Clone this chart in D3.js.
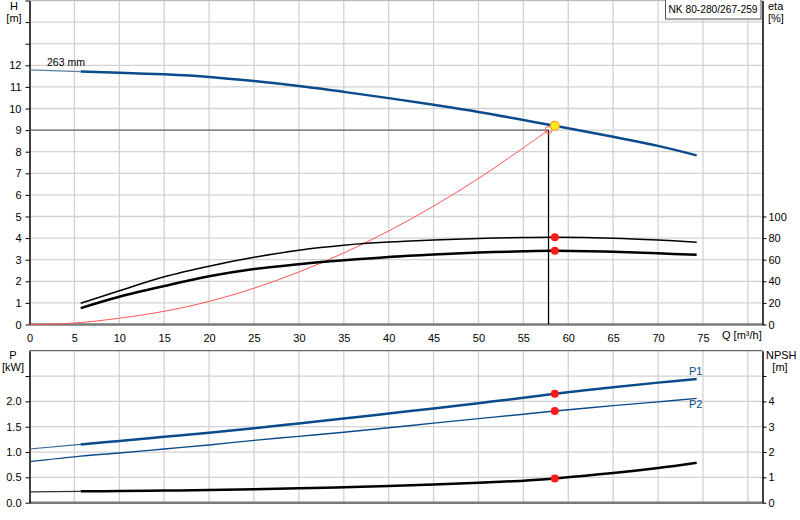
<!DOCTYPE html>
<html>
<head>
<meta charset="utf-8">
<script src="https://cdn.jsdelivr.net/npm/d3@7"></script>
<style>
  body { margin: 0; background: #fff; }
  svg { display: block; font-family: "Liberation Sans", Arial, sans-serif; }
</style>
</head>
<body>
<svg id="chart" width="800" height="520"></svg>
<script>
// ---------- data ----------
const qTicks = [0, 5, 10, 15, 20, 25, 30, 35, 40, 45, 50, 55, 60, 65, 70, 75];
const hTicks = [0, 1, 2, 3, 4, 5, 6, 7, 8, 9, 10, 11, 12];
const etaTicks = [0, 20, 40, 60, 80, 100];
const pTicks = [0.0, 0.5, 1.0, 1.5, 2.0];
const npshTicks = [0, 1, 2, 3, 4];

// pump head curve (H, m)
const qH = [0, 5.7, 10, 15, 20, 25, 30, 35, 40, 45, 50, 58.5, 65, 70, 74.3];
const hVal = [11.79, 11.71, 11.66, 11.58, 11.46, 11.27, 11.04, 10.77, 10.48, 10.17, 9.84, 9.2, 8.69, 8.27, 7.83];

// system curve (H, m)
const qSys = [0, 5, 10, 15, 20, 25, 30, 35, 40, 45, 50, 55, 57.8];
const hSys = [0, 0.07, 0.29, 0.61, 1.07, 1.68, 2.43, 3.31, 4.33, 5.48, 6.76, 8.18, 9.0];

// efficiencies (%)
const qEta = [5.7, 10, 15, 20, 25, 30, 35, 40, 45, 50, 55, 58.5, 65, 70, 74.3];
const eta1 = [19.6, 31.2, 44.2, 54.0, 62.2, 68.8, 73.4, 76.3, 78.2, 79.7, 80.6, 80.8, 79.9, 78.2, 76.2];
const eta2 = [15.2, 25.7, 35.6, 44.6, 51.4, 55.8, 59.4, 62.5, 64.8, 66.6, 67.8, 68.2, 67.3, 65.9, 64.5];

// power (kW) and NPSH (m)
const qP = [0, 5.7, 10, 15, 20, 25, 30, 35, 40, 45, 50, 55, 58.5, 65, 70, 74.3];
const p1 = [1.06, 1.15, 1.22, 1.30, 1.38, 1.47, 1.565, 1.66, 1.76, 1.86, 1.965, 2.07, 2.15, 2.28, 2.37, 2.44];
const p2 = [0.81, 0.92, 0.98, 1.06, 1.14, 1.23, 1.31, 1.39, 1.48, 1.57, 1.66, 1.745, 1.81, 1.915, 1.99, 2.06];
const npsh = [0.43, 0.45, 0.46, 0.48, 0.50, 0.53, 0.57, 0.61, 0.66, 0.72, 0.79, 0.87, 0.96, 1.17, 1.37, 1.58];

const dutyQ = 58.5, dutyH = 9.2;
const reqQ = 57.8, reqH = 9.0;
const title = "NK 80-280/267-259";
const impeller = "263 mm";
const extrapolatedUntil = 5.7;

// ---------- layout ----------
const svg = d3.select("#chart");
const L = 29.5, R = 762.5;
const topT = 0.5, topB = 324.5;
const botT = 350.7, botB = 502.7;

const x = d3.scaleLinear().domain([0, 81.63]).range([L, R]);
const yH = d3.scaleLinear().domain([0, 15]).range([topB, topT]);
const yEta = d3.scaleLinear().domain([0, 300]).range([topB, topT]);
const yP = d3.scaleLinear().domain([0, 3]).range([botB, botT]);
const yN = d3.scaleLinear().domain([0, 6]).range([botB, botT]);

const gridColor = "#d2d2d2";
const blue = "#0b4a8b";
const font = 11;
const smooth = d3.curveCatmullRom.alpha(0.5);

// gridlines
const gridQ = d3.range(5, 81, 5);
function vgrid(y0, y1) {
  svg.append("g").selectAll("line").data(gridQ).join("line")
    .attr("x1", d => x(d)).attr("x2", d => x(d))
    .attr("y1", y0).attr("y2", y1)
    .attr("stroke", gridColor).attr("stroke-width", 1.3);
}
vgrid(topT, topB);
vgrid(botT, botB);

svg.append("g").selectAll("line").data(d3.range(1, 16)).join("line")
  .attr("x1", L).attr("x2", R)
  .attr("y1", d => yH(d)).attr("y2", d => yH(d))
  .attr("stroke", gridColor).attr("stroke-width", 1.3);
svg.append("g").selectAll("line").data([0.5, 1.0, 1.5, 2.0, 2.5]).join("line")
  .attr("x1", L).attr("x2", R)
  .attr("y1", d => yP(d)).attr("y2", d => yP(d))
  .attr("stroke", gridColor).attr("stroke-width", 1.3);

// frames
svg.append("line").attr("x1", L).attr("x2", R).attr("y1", topT).attr("y2", topT)
  .attr("stroke", "#bbb").attr("stroke-width", 1);
svg.append("line").attr("x1", L).attr("x2", R).attr("y1", topB).attr("y2", topB)
  .attr("stroke", "#7a7a7a").attr("stroke-width", 2.5);
svg.append("line").attr("x1", L).attr("x2", R).attr("y1", botT).attr("y2", botT)
  .attr("stroke", "#666").attr("stroke-width", 1.2);
svg.append("line").attr("x1", L).attr("x2", R).attr("y1", botB).attr("y2", botB)
  .attr("stroke", "#7a7a7a").attr("stroke-width", 2.5);

// axes
function axisStyle(g) {
  g.selectAll("path.domain").attr("stroke", "#000").attr("stroke-width", 1.5);
  g.selectAll(".tick line").attr("stroke", "#000").attr("stroke-width", 1);
  g.selectAll(".tick text").attr("font-size", font).attr("fill", "#000")
    .attr("font-family", "Liberation Sans, Arial, sans-serif");
}
const gHL = svg.append("g").attr("transform", `translate(${L},0)`)
  .call(d3.axisLeft(yH).tickValues(d3.range(0, 16)).tickSize(4).tickPadding(4).tickSizeOuter(0)
    .tickFormat(d => hTicks.includes(d) ? d : ""));
axisStyle(gHL);
const gER = svg.append("g").attr("transform", `translate(${R},0)`)
  .call(d3.axisRight(yEta).tickValues(etaTicks).tickSize(4).tickPadding(2).tickSizeOuter(0));
axisStyle(gER);
const gPL = svg.append("g").attr("transform", `translate(${L},0)`)
  .call(d3.axisLeft(yP).tickValues([0, 0.5, 1, 1.5, 2, 2.5]).tickSize(4).tickPadding(4).tickSizeOuter(0)
    .tickFormat(d => pTicks.includes(d) ? d3.format(".1f")(d) : ""));
axisStyle(gPL);
const gNR = svg.append("g").attr("transform", `translate(${R},0)`)
  .call(d3.axisRight(yN).tickValues([0, 1, 2, 3, 4, 5]).tickSize(4).tickPadding(2).tickSizeOuter(0)
    .tickFormat(d => npshTicks.includes(d) ? d : ""));
axisStyle(gNR);

// x axis labels between the plots
const gX = svg.append("g").attr("transform", `translate(0,${topB})`)
  .call(d3.axisBottom(x).tickValues(qTicks).tickSize(0).tickPadding(10));
gX.select("path.domain").remove();
gX.selectAll(".tick text").attr("font-size", font).attr("fill", "#000");
svg.append("text").attr("x", 722).attr("y", 339).attr("font-size", font).text("Q [m³/h]");

// unit labels
function label(t, xx, yy, anchor) {
  svg.append("text").attr("x", xx).attr("y", yy).attr("font-size", font)
    .attr("text-anchor", anchor || "start").text(t);
}
label("H", 14, 10, "middle");
label("[m]", 14, 22, "middle");
label("eta", 768, 10);
label("[%]", 768, 22);
label("P", 13, 359, "middle");
label("[kW]", 13, 371, "middle");
label("NPSH", 766, 359);
label("[m]", 780, 371, "middle");

// title box
svg.append("rect").attr("x", 665.5).attr("y", -1).attr("width", 95.5).attr("height", 20)
  .attr("fill", "#fff").attr("stroke", "#555").attr("stroke-width", 1);
svg.append("line").attr("x1", 666).attr("x2", 761).attr("y1", 19.7).attr("y2", 19.7)
  .attr("stroke", "#aaa").attr("stroke-width", 1);
svg.append("text").attr("x", 668.5).attr("y", 12.5).attr("font-size", font)
  .attr("textLength", 89).attr("lengthAdjust", "spacingAndGlyphs").text(title);

// ---------- curves ----------
function drawCurve(qs, vs, yScale, color, width, thinColor) {
  const pts = qs.map((q, i) => [q, vs[i]]);
  const line = d3.line().x(d => x(d[0])).y(d => yScale(d[1])).curve(smooth);
  const ext = pts.filter(d => d[0] <= extrapolatedUntil);
  const main = pts.filter(d => d[0] >= extrapolatedUntil);
  if (ext.length > 1 && thinColor) {
    svg.append("path").attr("d", line(ext)).attr("fill", "none")
      .attr("stroke", thinColor).attr("stroke-width", 1.2);
  }
  svg.append("path").attr("d", line(main)).attr("fill", "none")
    .attr("stroke", color).attr("stroke-width", width).attr("stroke-linejoin", "round");
}

// system curve
svg.append("path")
  .attr("d", d3.line().x(d => x(d)).y((d, i) => yH(hSys[i])).curve(smooth)(qSys))
  .attr("fill", "none").attr("stroke", "#ff5555").attr("stroke-width", 1);

// duty reference lines
svg.append("line").attr("x1", L).attr("x2", x(reqQ)).attr("y1", yH(reqH)).attr("y2", yH(reqH))
  .attr("stroke", "#666").attr("stroke-width", 1.2);
svg.append("line").attr("x1", x(reqQ)).attr("x2", x(reqQ)).attr("y1", yH(reqH)).attr("y2", topB)
  .attr("stroke", "#000").attr("stroke-width", 1.3);

drawCurve(qH, hVal, yH, blue, 2.5, "#5a7ea4");
drawCurve(qEta, eta1, yEta, "#000", 1.5, null);
drawCurve(qEta, eta2, yEta, "#000", 2.5, null);
drawCurve(qP, p1, yP, blue, 2.5, "#3d6793");
// P2 thin along the whole range
svg.append("path")
  .attr("d", d3.line().x(d => x(d)).y((d, i) => yP(p2[i])).curve(smooth)(qP))
  .attr("fill", "none").attr("stroke", blue).attr("stroke-width", 1.4);
drawCurve(qP, npsh, yN, "#000", 2.5, "#333");

svg.append("text").attr("x", 47).attr("y", 66).attr("font-size", 10.5).text(impeller);
svg.append("text").attr("x", 689).attr("y", 375).attr("font-size", font).attr("fill", blue).text("P1");
svg.append("text").attr("x", 689).attr("y", 408).attr("font-size", font).attr("fill", blue).text("P2");

// duty point markers
const dotVals = [
  [yEta, eta1[qEta.indexOf(dutyQ)]],
  [yEta, eta2[qEta.indexOf(dutyQ)]],
  [yP, p1[qP.indexOf(dutyQ)]],
  [yP, p2[qP.indexOf(dutyQ)]],
  [yN, npsh[qP.indexOf(dutyQ)]]
];
svg.append("g").selectAll("circle").data(dotVals).join("circle")
  .attr("cx", x(dutyQ)).attr("cy", d => d[0](d[1])).attr("r", 4)
  .attr("fill", "#ff1a1a");

svg.append("circle").attr("cx", x(reqQ)).attr("cy", yH(reqH)).attr("r", 3.5)
  .attr("fill", "none").attr("stroke", "#ff6060").attr("stroke-width", 1);
svg.append("circle").attr("cx", x(dutyQ)).attr("cy", yH(dutyH)).attr("r", 4.5)
  .attr("fill", "#ffe81a").attr("stroke", "#ff9a2a").attr("stroke-width", 1.2);
</script>
</body>
</html>
